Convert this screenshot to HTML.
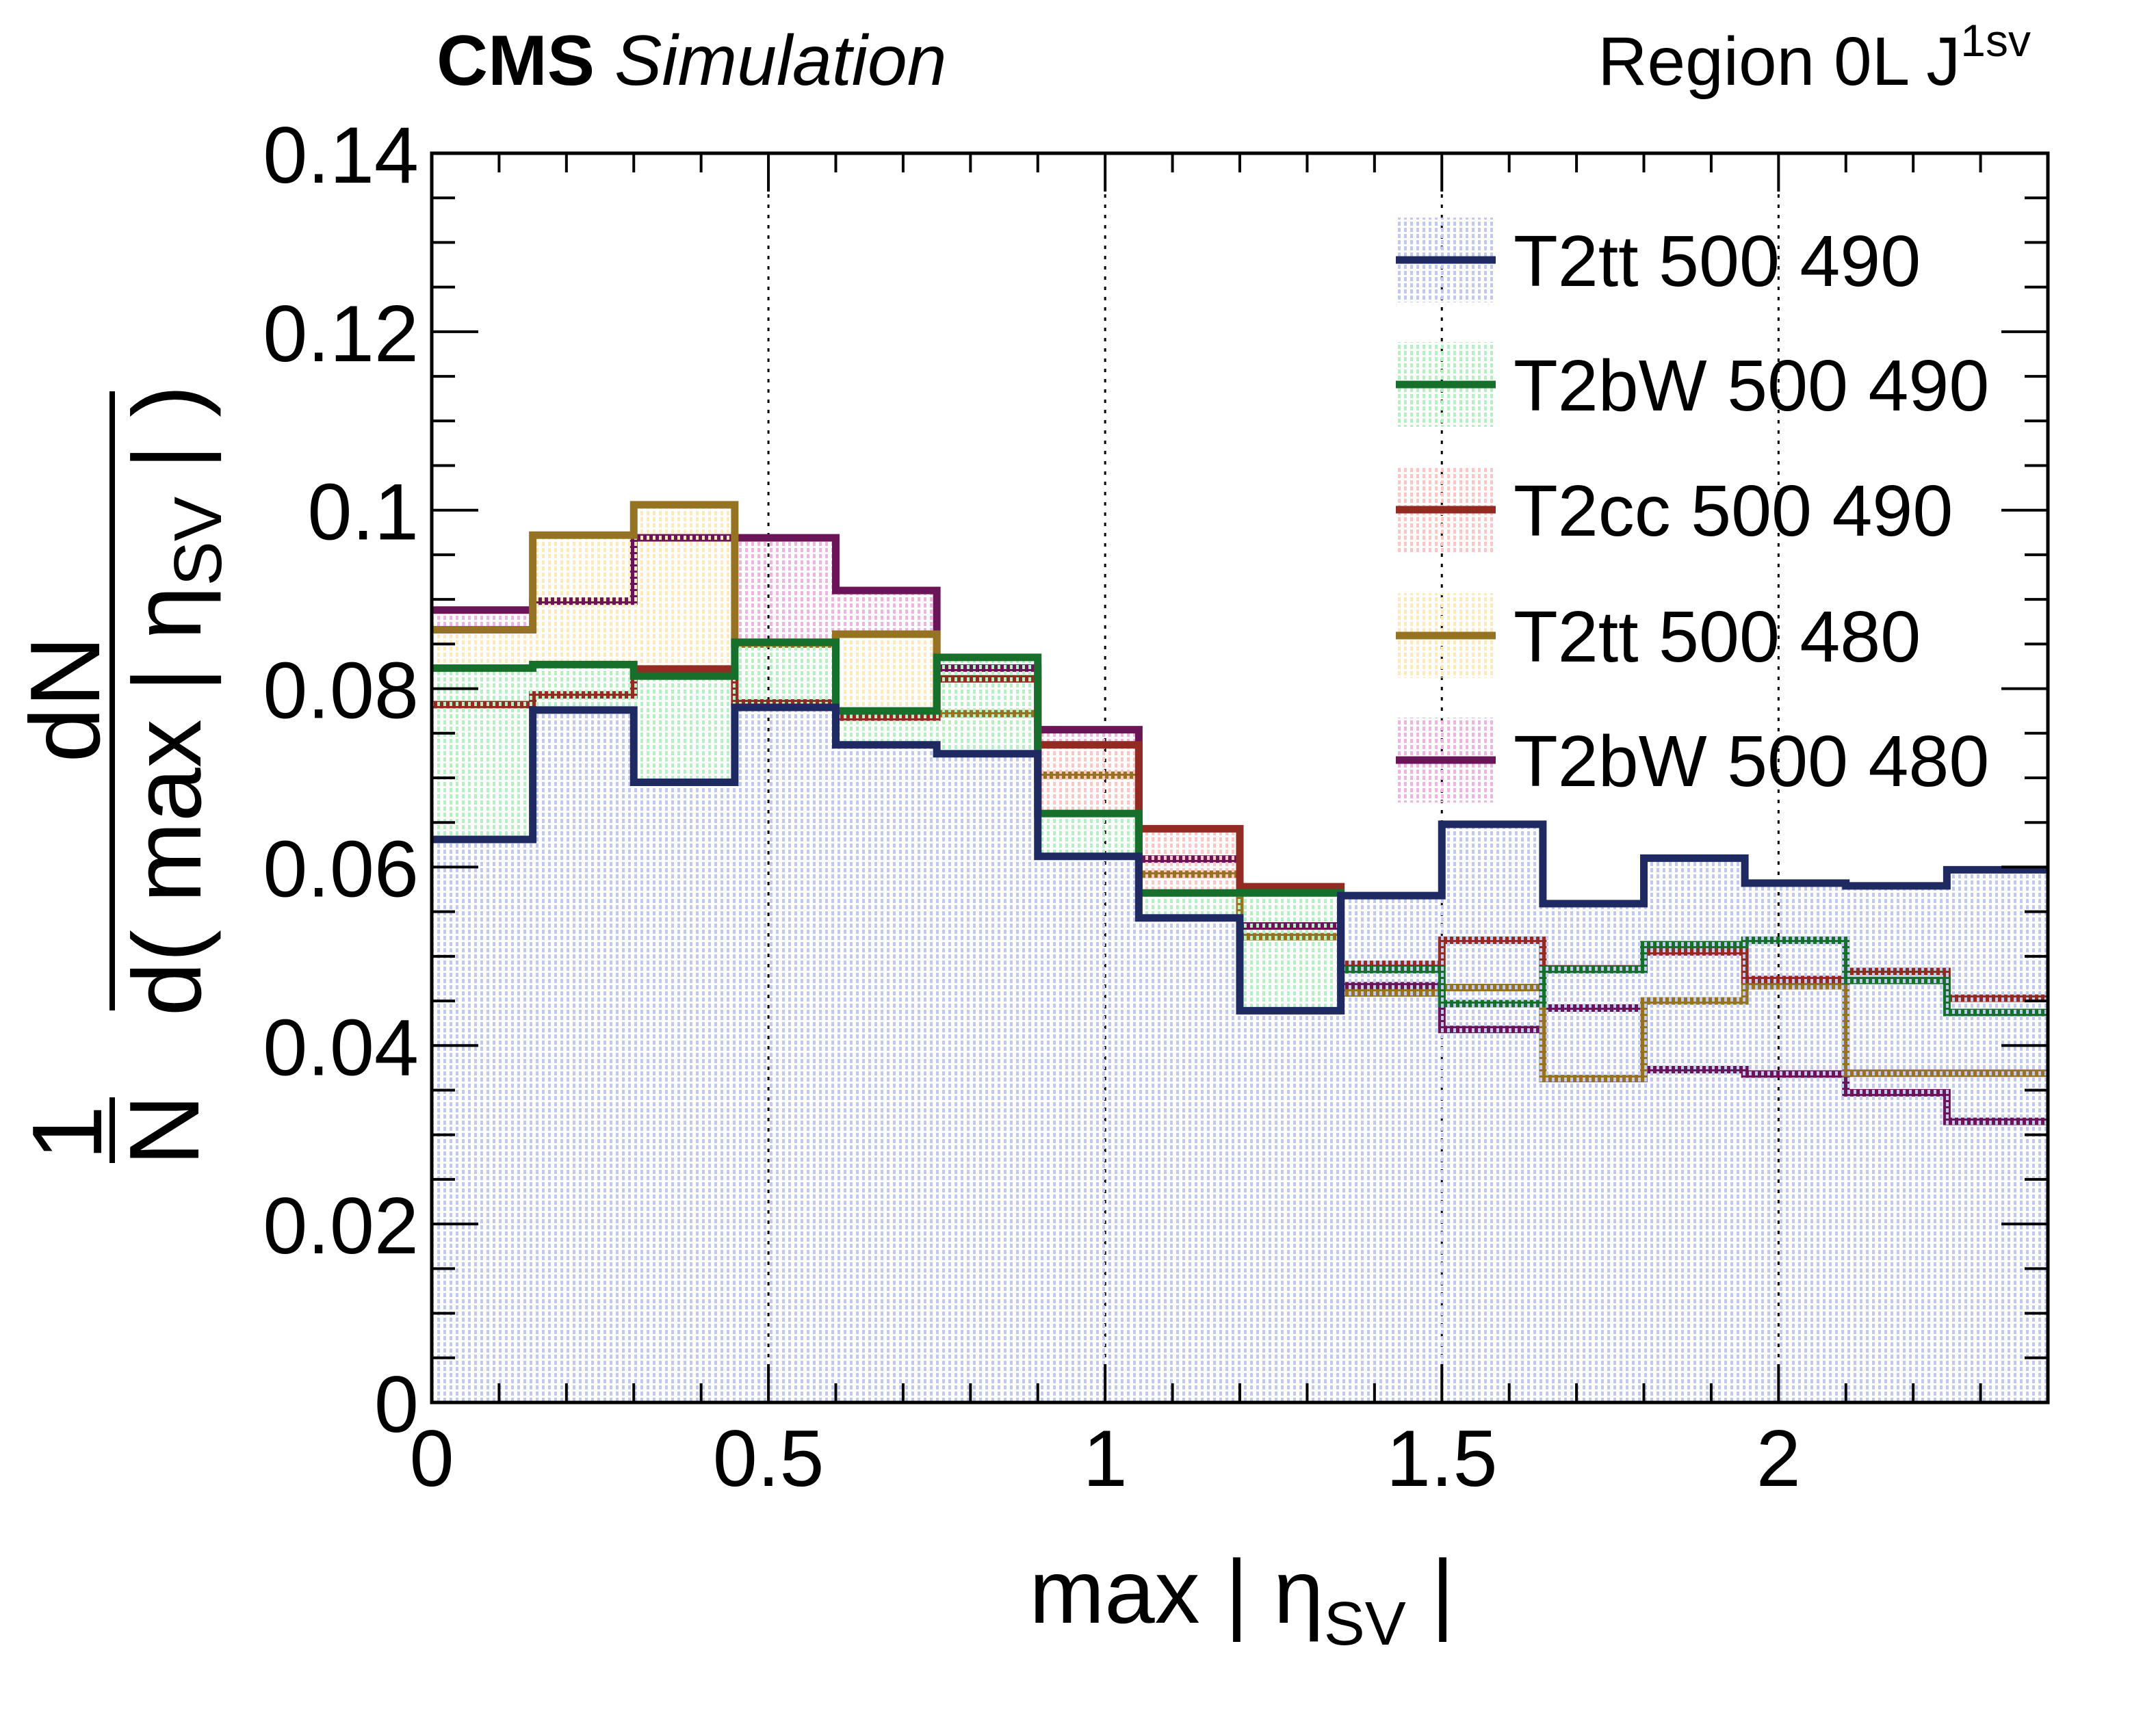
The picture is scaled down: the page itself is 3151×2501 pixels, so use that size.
<!DOCTYPE html>
<html><head><meta charset="utf-8"><style>
html,body{margin:0;padding:0;background:#fff;}
svg{display:block;font-family:"Liberation Sans",sans-serif;}
</style></head><body>
<svg id="chart" width="3151" height="2501" viewBox="0 0 3151 2501" xmlns="http://www.w3.org/2000/svg">
<defs>
<pattern id="p-navy" width="9" height="9" patternUnits="userSpaceOnUse"><rect x="0" y="0" width="4" height="6" fill="#c2c9ef"/></pattern>
<pattern id="p-green" width="9" height="9" patternUnits="userSpaceOnUse"><rect x="0" y="0" width="4" height="6" fill="#b4f0c2"/></pattern>
<pattern id="p-red" width="9" height="9" patternUnits="userSpaceOnUse"><rect x="0" y="0" width="4" height="6" fill="#ffc4c4"/></pattern>
<pattern id="p-gold" width="9" height="9" patternUnits="userSpaceOnUse"><rect x="0" y="0" width="4" height="6" fill="#ffe9b8"/></pattern>
<pattern id="p-pink" width="9" height="9" patternUnits="userSpaceOnUse"><rect x="0" y="0" width="4" height="6" fill="#f0b4e2"/></pattern>
</defs>
<g id="grid"></g>
<g id="hists"></g>
<g id="axes"></g>
<g id="legend"></g>
<text x="638" y="124" font-size="104" font-weight="bold">CMS <tspan font-weight="normal" font-style="italic">Simulation</tspan></text>
<text x="2968" y="124" font-size="100" text-anchor="end">Region 0L J<tspan font-size="66" dy="-42">1sv</tspan></text>
<text x="1815" y="2372" font-size="132" text-anchor="middle">max | η<tspan font-size="90" dy="32">SV</tspan><tspan dy="-32"> |</tspan></text>
<g>
<text transform="translate(145,1022) rotate(-90)" font-size="145" text-anchor="middle">dN</text>
<rect x="160" y="572" width="8" height="905" fill="#000"/>
<text transform="translate(293,1024) rotate(-90)" font-size="142" text-anchor="middle">d( max | η<tspan font-size="98" dy="30">SV</tspan><tspan dy="-30"> | )</tspan></text>
<text transform="translate(148,1656) rotate(-90)" font-size="145" text-anchor="middle">1</text>
<rect x="160" y="1604" width="8" height="96" fill="#000"/>
<text transform="translate(290,1652) rotate(-90)" font-size="145" text-anchor="middle">N</text>
</g>
</svg>
<script>
const binEdges = [0,0.15,0.3,0.45,0.6,0.75,0.9,1.05,1.2,1.35,1.5,1.65,1.8,1.95,2.1,2.25,2.4];
const seriesNames = ["T2tt 500 490","T2bW 500 490","T2cc 500 490","T2tt 500 480","T2bW 500 480"];
const t2tt490 = [0.0631,0.0776,0.0695,0.0779,0.0737,0.0727,0.0612,0.0543,0.0439,0.0568,0.0648,0.0559,0.0610,0.0582,0.0579,0.0597];
const t2bw490 = [0.0823,0.0827,0.0814,0.0852,0.0775,0.0835,0.0660,0.0571,0.0571,0.0485,0.0447,0.0485,0.0513,0.0518,0.0473,0.0437];
const t2cc490 = [0.0782,0.0793,0.0822,0.0784,0.0768,0.0811,0.0737,0.0643,0.0578,0.0491,0.0518,0.0486,0.0505,0.0474,0.0483,0.0453];
const t2tt480 = [0.0866,0.0972,0.1006,0.0850,0.0861,0.0772,0.0703,0.0592,0.0522,0.0459,0.0465,0.0363,0.0450,0.0467,0.0369,0.0369];
const t2bw480 = [0.0888,0.0898,0.0969,0.0969,0.0910,0.0823,0.0754,0.0609,0.0534,0.0467,0.0418,0.0442,0.0373,0.0368,0.0347,0.0315];
const xTicks = [0,0.5,1,1.5,2];
const xTickLabels = ["0","0.5","1","1.5","2"];
const yTicks = [0,0.02,0.04,0.06,0.08,0.1,0.12,0.14];
const yTickLabels = ["0","0.02","0.04","0.06","0.08","0.1","0.12","0.14"];

const NS="http://www.w3.org/2000/svg";
const L=631,R=2993,T=224,B=2050;
const X0=0,X1=2.4,Y0=0,Y1=0.14;
function sx(v){return L+(v-X0)/(X1-X0)*(R-L);}
function sy(v){return B-(v-Y0)/(Y1-Y0)*(B-T);}
function mk(tag,attrs,parent){const e=document.createElementNS(NS,tag);for(const k in attrs)e.setAttribute(k,attrs[k]);parent.appendChild(e);return e;}

const grid=document.getElementById('grid');
[0.5,1,1.5,2].forEach(v=>{
  const l=mk('line',{x1:sx(v),x2:sx(v),y1:T,y2:B,stroke:'#000','stroke-width':3,'stroke-dasharray':'5 10'},grid);
  
  
});

const series=[
  {vals:t2bw480,line:'#6b1558',fill:'url(#p-pink)',key:'t2bw-500-480'},
  {vals:t2tt480,line:'#967322',fill:'url(#p-gold)',key:'t2tt-500-480'},
  {vals:t2cc490,line:'#922b21',fill:'url(#p-red)',key:'t2cc-500-490'},
  {vals:t2bw490,line:'#16702c',fill:'url(#p-green)',key:'t2bw-500-490'},
  {vals:t2tt490,line:'#1f2a63',fill:'url(#p-navy)',key:'t2tt-500-490'}
];
const hists=document.getElementById('hists');
series.forEach(s=>{
  let d='M'+sx(binEdges[0])+','+sy(0);
  let ld='';
  s.vals.forEach((v,i)=>{
    const a=sx(binEdges[i]),b=sx(binEdges[i+1]),y=sy(v);
    d+=' L'+a+','+y+' L'+b+','+y;
    ld+=(i===0?'M':' L')+a+','+y+' L'+b+','+y;
  });
  d+=' L'+sx(binEdges[binEdges.length-1])+','+sy(0)+' Z';
  const f=mk('path',{d:d,fill:s.fill,stroke:'none'},hists);
  
  
  const p=mk('path',{d:ld,fill:'none',stroke:s.line,'stroke-width':11,'stroke-linejoin':'miter'},hists);
  
  
});

const axes=document.getElementById('axes');
const fr=mk('rect',{x:L,y:T,width:R-L,height:B-T,fill:'none',stroke:'#000','stroke-width':5},axes);


for(let k=0;k<=24;k++){
  const v=k*0.1, x=sx(v), major=(k%5===0), len=major?56:28;
  mk('line',{x1:x,x2:x,y1:B,y2:B-len,stroke:'#000','stroke-width':4},axes);
  mk('line',{x1:x,x2:x,y1:T,y2:T+len,stroke:'#000','stroke-width':4},axes);
}
for(let k=0;k<=28;k++){
  const v=k*0.005, y=sy(v), major=(k%4===0), len=major?68:34;
  mk('line',{x1:L,x2:L+len,y1:y,y2:y,stroke:'#000','stroke-width':4},axes);
  mk('line',{x1:R,x2:R-len,y1:y,y2:y,stroke:'#000','stroke-width':4},axes);
}
xTicks.forEach((v,i)=>{
  const t=mk('text',{x:sx(v),y:2172,'font-size':117,'text-anchor':'middle'},axes);
  t.textContent=xTickLabels[i];
  
  
});
yTicks.forEach((v,i)=>{
  const t=mk('text',{x:612,y:sy(v)+43,'font-size':117,'text-anchor':'end'},axes);
  t.textContent=yTickLabels[i];
  
  
});

const legend=document.getElementById('legend');
const legOrder=[
  {name:seriesNames[0],line:'#1f2a63',fill:'url(#p-navy)'},
  {name:seriesNames[1],line:'#16702c',fill:'url(#p-green)'},
  {name:seriesNames[2],line:'#922b21',fill:'url(#p-red)'},
  {name:seriesNames[3],line:'#967322',fill:'url(#p-gold)'},
  {name:seriesNames[4],line:'#6b1558',fill:'url(#p-pink)'}
];
const legY=[380,562,745,929,1111];
legOrder.forEach((s,i)=>{
  const g=mk('g',{},legend);
  
  
  mk('rect',{x:2040,y:legY[i]-62,width:146,height:124,fill:s.fill},g);
  mk('line',{x1:2040,x2:2186,y1:legY[i],y2:legY[i],stroke:s.line,'stroke-width':11},g);
  const t=mk('text',{x:2212,y:legY[i]+38,'font-size':106},g);
  t.textContent=s.name;
});
</script>
</body></html>
